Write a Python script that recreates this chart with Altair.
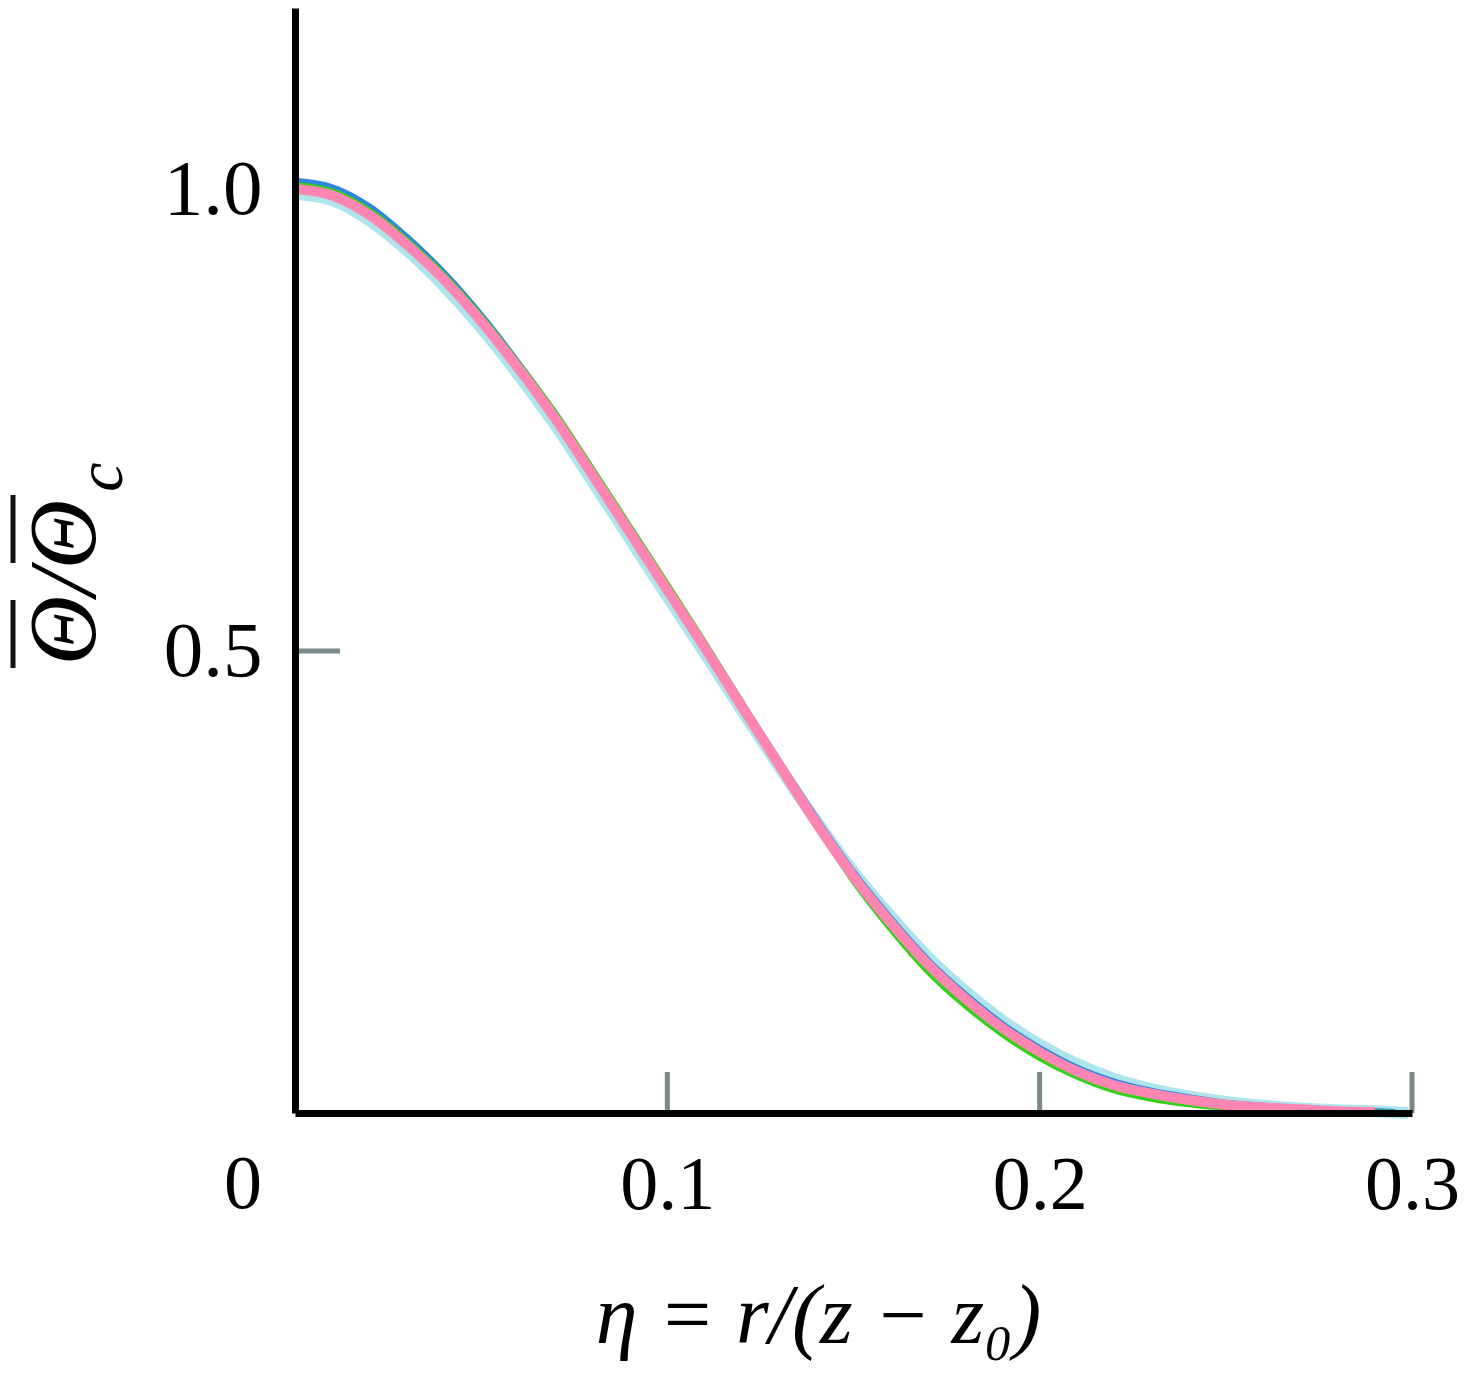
import altair as alt
import pandas as pd

# ---- data ----
eta = [0.00, 0.01, 0.02, 0.03, 0.04, 0.05, 0.06, 0.07, 0.08, 0.09,
       0.10, 0.11, 0.12, 0.13, 0.14, 0.15, 0.16, 0.17, 0.18, 0.19,
       0.20, 0.21, 0.22, 0.23, 0.24, 0.25, 0.26, 0.27, 0.28, 0.29]

cyan = [0.995, 0.988, 0.966, 0.934, 0.895, 0.850, 0.799, 0.744, 0.683, 0.621,
        0.559, 0.498, 0.436, 0.375, 0.316, 0.261, 0.213, 0.169, 0.132, 0.100,
        0.074, 0.053, 0.037, 0.026, 0.018, 0.012, 0.008, 0.005, 0.003, 0.002]
blue = [1.008, 1.001, 0.980, 0.947, 0.908, 0.862, 0.810, 0.754, 0.693, 0.631,
        0.568, 0.506, 0.442, 0.379, 0.317, 0.259, 0.209, 0.164, 0.127, 0.095,
        0.069, 0.048, 0.033, 0.023, 0.016, 0.010, 0.007, 0.004, 0.002, 0.001]
green = [1.004, 0.997, 0.976, 0.944, 0.906, 0.861, 0.810, 0.756, 0.695, 0.633,
         0.571, 0.508, 0.443, 0.378, 0.313, 0.252, 0.200, 0.154, 0.117, 0.086,
         0.060, 0.040, 0.025, 0.016, 0.010, 0.006, 0.004, 0.002, 0.001, 0.000]
pink = [1.000, 0.993, 0.972, 0.940, 0.902, 0.857, 0.806, 0.751, 0.690, 0.628,
        0.566, 0.504, 0.440, 0.377, 0.314, 0.256, 0.206, 0.161, 0.124, 0.092,
        0.066, 0.045, 0.030, 0.021, 0.014, 0.009, 0.006, 0.004, 0.002, 0.001]

# end points of each curve (eta, value)
cyan_end = (0.299, 0.0)
blue_end = (0.2955, 0.0)
green_end = (0.294, 0.0)
pink_end = None

x_ticks = [0.1, 0.2, 0.3]
y_ticks = [0.5, 1.0]

series = [
    ("cyan", cyan, cyan_end, "#aee5ec", 12),
    ("blue", blue, blue_end, "#2e86de", 8),
    ("green", green, green_end, "#35d11a", 7),
    ("pink", pink, pink_end, "#ff86b3", 10),
]

W, H = 1117, 1105
FONT = "Liberation Serif"

xs = alt.Scale(domain=[0, 0.3], nice=False, zero=False)
ys = alt.Scale(domain=[0, 1.196], nice=False, zero=False)

x_axis = alt.Axis(
    values=x_ticks, format=".1f", title="η = r/(z − z₀)",
    labelFont=FONT, labelFontSize=76, labelPadding=95, labelBaseline="alphabetic",
    labelColor="black", labelFlush=False, labelOverlap=False,
    ticks=False, tickSize=0, grid=False,
    domainColor="black", domainWidth=7, zindex=1,
    titleFont=FONT, titleFontSize=84, titleFontStyle="italic", titleFontWeight="normal",
    titleColor="black", titleX=523, titleY=229, titleBaseline="alphabetic",
)
y_axis = alt.Axis(
    values=y_ticks, format=".1f", title="Θ/Θ",
    labelFont=FONT, labelFontSize=79, labelPadding=33,
    labelColor="black", labelFlush=False, labelOverlap=False,
    ticks=False, tickSize=0, grid=False,
    domainColor="black", domainWidth=7, zindex=1,
    titleFont=FONT, titleFontSize=96, titleFontStyle="italic", titleFontWeight="normal",
    titleColor="black", titleX=-181, titleY=574,
)

X = alt.X("eta:Q", scale=xs, axis=x_axis)
Y = alt.Y("v:Q", scale=ys, axis=y_axis)

layers = []

# inward ticks
xt = pd.DataFrame({"eta": x_ticks})
layers.append(
    alt.Chart(xt).mark_rule(color="#7b8a88", strokeWidth=5).encode(
        x=X, y=alt.value(H), y2=alt.value(H - 41)
    )
)
yt = pd.DataFrame({"v": y_ticks})
layers.append(
    alt.Chart(yt).mark_rule(color="#7b8a88", strokeWidth=5).encode(
        y=Y, x=alt.value(0), x2=alt.value(45)
    )
)

for name, vals, end, col, w in series:
    e = list(eta)
    v = list(vals)
    if end is not None:
        e.append(end[0])
        v.append(end[1])
    df = pd.DataFrame({"eta": e, "v": v})
    layers.append(
        alt.Chart(df).mark_line(color=col, strokeWidth=w, interpolate="monotone",
                                strokeCap="butt").encode(x=X, y=Y)
    )

# standalone "0" at the corner
zero_df = pd.DataFrame({"eta": [0.0], "v": [0.0], "t": ["0"]})
layers.append(
    alt.Chart(zero_df).mark_text(font=FONT, fontSize=76, align="right",
                                 baseline="alphabetic", dx=-33, dy=95,
                                 color="black").encode(x=X, y=Y, text="t:N")
)

# subscript c of the y title
c_df = pd.DataFrame({"t": ["c"]})
layers.append(
    alt.Chart(c_df).mark_text(font=FONT, fontSize=66, fontStyle="italic",
                              angle=270, align="center", baseline="middle",
                              color="black").encode(
        x=alt.value(-193), y=alt.value(469), text="t:N")
)

# overbars of the y title (Θ̄ / Θ̄)
bar_df = pd.DataFrame({"k": ["a"]})
layers.append(
    alt.Chart(bar_df).mark_rule(color="#111", strokeWidth=5).encode(
        x=alt.value(-282), y=alt.value(592), y2=alt.value(660))
)
layers.append(
    alt.Chart(bar_df).mark_rule(color="#111", strokeWidth=5).encode(
        x=alt.value(-282), y=alt.value(487), y2=alt.value(555))
)

chart = alt.layer(*layers).properties(
    width=W, height=H,
    autosize=alt.AutoSizeParams(type="none"),
    padding={"left": 287, "top": 0, "right": 47, "bottom": 268},
).configure_view(stroke=None)

chart.save("out.html", embed_options={"renderer": "svg", "actions": False})
